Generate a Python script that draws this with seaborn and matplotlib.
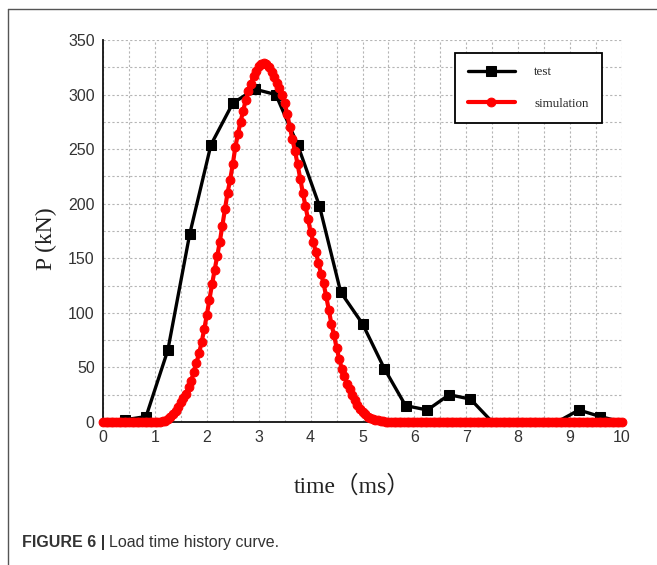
import numpy as np
import pandas as pd
import seaborn as sns
import matplotlib.pyplot as plt
from matplotlib.ticker import MultipleLocator
from matplotlib.lines import Line2D

# ---------------- data ----------------
test_time = [0, 0.42, 0.83, 1.25, 1.67, 2.08, 2.5, 2.92, 3.33, 3.75, 4.17, 4.58,
             5.0, 5.42, 5.83, 6.25, 6.67, 7.08, 7.5, 7.92, 8.33, 8.75, 9.17, 9.58, 10.0]
test_load = [0, 2, 5, 66, 172, 254, 292, 305, 300, 254, 198, 119,
             90, 49, 15, 11, 25, 21, 0, 0, 0, 0, 11, 5, 0]

sim_time = np.round(np.linspace(0, 10, 201), 2)
sim_lead_zeros = [0.0] * 22          # 0.00 .. 1.05 ms
sim_pulse = [0, 0.5, 1, 2.5, 5, 7.5, 10, 14, 18, 22, 26, 32, 38, 46, 54, 63, 73, 85,
             98, 112, 126, 139, 152, 165, 180, 195, 210, 222, 236, 252, 264, 275,
             285, 295, 303, 310, 317, 322, 326, 328, 329, 328, 325, 321, 316, 311,
             306, 300, 292, 282, 270, 259, 248, 236, 223, 210, 198, 186, 174, 165,
             156, 146, 136, 127, 115, 103, 90, 80, 68, 58, 49, 42, 35, 30, 25, 20,
             16, 12, 9, 7, 5, 3.5, 2.5, 2, 1.5, 1, 0.5, 0, 0]   # 1.10 .. 5.50 ms
sim_tail_zeros = [0.0] * (len(sim_time) - len(sim_lead_zeros) - len(sim_pulse))
sim_load = sim_lead_zeros + sim_pulse + sim_tail_zeros

x_ticks = [0, 1, 2, 3, 4, 5, 6, 7, 8, 9, 10]
y_ticks = [0, 50, 100, 150, 200, 250, 300, 350]

df_test = pd.DataFrame({"time": test_time, "P": test_load})
df_sim = pd.DataFrame({"time": sim_time, "P": sim_load})

# ---------------- style ----------------
sns.set_style("white")
plt.rcParams["font.family"] = ["Liberation Sans", "DejaVu Sans"]

fig = plt.figure(figsize=(6.57, 5.65), dpi=100)
ax = fig.add_axes([103 / 657, 1 - 422 / 565, 519 / 657, 382 / 565])

# markers of the measured curve that lie on the zero line are hidden under the red band
test_marker_idx = [i for i, v in enumerate(test_load) if v > 0]

sns.lineplot(data=df_test, x="time", y="P", ax=ax, color="black", linewidth=2.4,
             marker="s", markersize=6.5, markeredgecolor="black", label="test",
             markevery=test_marker_idx, zorder=3)
sns.lineplot(data=df_sim, x="time", y="P", ax=ax, color="#ff0000", linewidth=3.0,
             marker="o", markersize=6.3, markeredgecolor="#ff0000", label="simulation",
             zorder=4)
for ln in ax.lines:
    ln.set_clip_on(False)

ax.set_xlim(0, 10)
ax.set_ylim(0, 350)
ax.set_xticks(x_ticks)
ax.set_yticks(y_ticks)
ax.xaxis.set_minor_locator(MultipleLocator(0.5))
ax.yaxis.set_minor_locator(MultipleLocator(25))
ax.grid(which="both", linestyle=(0, (2, 2)), color="#b5b5b5", linewidth=0.8)
ax.set_axisbelow(True)

for s in ["top", "right"]:
    ax.spines[s].set_visible(False)
for s in ["left", "bottom"]:
    ax.spines[s].set_color("#111111")
    ax.spines[s].set_linewidth(1.3)

ax.tick_params(which="major", direction="in", length=6, width=1.2, colors="#111111",
               labelsize=11.5, labelcolor="#333333")
ax.tick_params(which="minor", direction="in", length=3, width=1.0, colors="#111111")
ax.tick_params(axis="x", which="major", pad=6)
ax.tick_params(axis="y", which="major", pad=6)

ax.set_xlabel("time（ms）", fontsize=17, family=["Liberation Serif", "Noto Sans CJK SC"],
              color="#222222")
ax.xaxis.set_label_coords(0.48, -0.139)
ax.set_ylabel("P (kN)", fontsize=17, family=["Liberation Serif"], color="#222222")
ax.yaxis.set_label_coords(-0.089, 0.479)

leg = ax.legend(loc="upper right", bbox_to_anchor=(0.961, 0.966), frameon=True,
                fancybox=False, edgecolor="black", framealpha=1,
                prop={"family": "Liberation Serif", "size": 9.4},
                handlelength=3.6, labelspacing=1.5, borderpad=1.0, handletextpad=1.5,
                borderaxespad=0)
leg.get_frame().set_linewidth(1.3)

# outer frame of the figure panel
fig.add_artist(Line2D([8 / 657, 8 / 657], [0, 1 - 9 / 565], color="#555555",
                      linewidth=1.0, transform=fig.transFigure))
fig.add_artist(Line2D([8 / 657, 1], [1 - 9 / 565, 1 - 9 / 565], color="#555555",
                      linewidth=1.0, transform=fig.transFigure))

# caption
fig.canvas.draw()
t1 = fig.text(22 / 657, 1 - 547 / 565, "FIGURE 6 |", fontsize=11.5, fontweight="bold",
              color="#333333", va="baseline", family="Liberation Sans")
fig.canvas.draw()
bb = t1.get_window_extent(renderer=fig.canvas.get_renderer())
fig.text(bb.x1 / fig.bbox.width + 4 / 657, 1 - 547 / 565, "Load time history curve.",
         fontsize=11.5, color="#333333", va="baseline", family="Liberation Sans")

fig.savefig("out.png", dpi=100)
